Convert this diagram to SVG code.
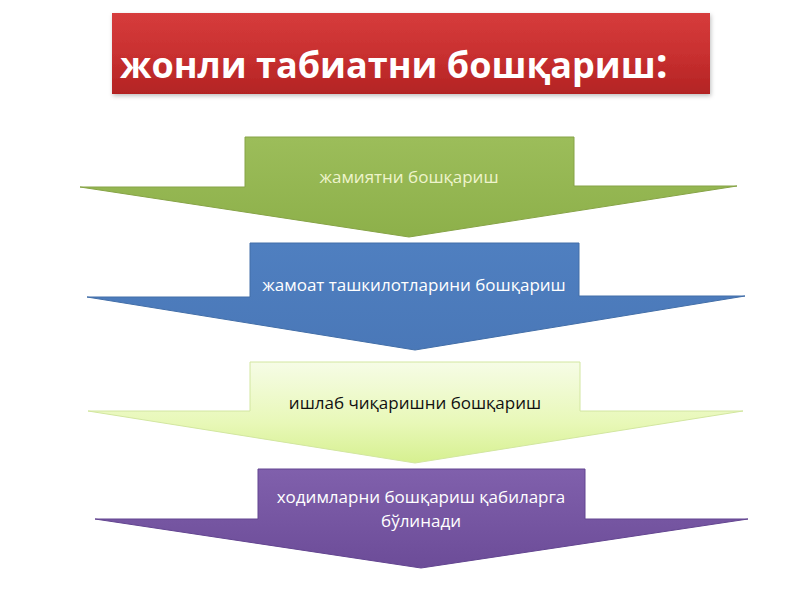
<svg xmlns="http://www.w3.org/2000/svg" width="800" height="600" viewBox="0 0 800 600">
<defs>
<linearGradient id="gRed" x1="0" y1="0" x2="0" y2="1">
<stop offset="0" stop-color="#d63c3c"/><stop offset="0.5" stop-color="#c93030"/><stop offset="1" stop-color="#b32424"/>
</linearGradient>
<linearGradient id="gGreen" x1="0" y1="0" x2="0" y2="1">
<stop offset="0" stop-color="#9cbd5a"/><stop offset="1" stop-color="#8db04a"/>
</linearGradient>
<linearGradient id="gBlue" x1="0" y1="0" x2="0" y2="1">
<stop offset="0" stop-color="#4f7fc0"/><stop offset="1" stop-color="#4a78b8"/>
</linearGradient>
<linearGradient id="gLight" x1="0" y1="0" x2="0" y2="1">
<stop offset="0" stop-color="#f6fce6"/><stop offset="0.6" stop-color="#e8f8b8"/><stop offset="1" stop-color="#d6f090"/>
</linearGradient>
<linearGradient id="gPurple" x1="0" y1="0" x2="0" y2="1">
<stop offset="0" stop-color="#8060ac"/><stop offset="1" stop-color="#6c4c98"/>
</linearGradient>
<filter id="sh" x="-5%" y="-10%" width="110%" height="130%">
<feDropShadow dx="1" dy="2" stdDeviation="2" flood-color="#000" flood-opacity="0.25"/>
</filter>
<style>
.t{font-family:"Open Sans","Noto Sans",sans-serif;font-size:17px;text-anchor:middle}
.w{fill:#ffffff}
.title{font-family:"Open Sans","Noto Sans",sans-serif;font-weight:bold;font-size:36px;fill:#ffffff}
</style>
</defs>
<rect width="800" height="600" fill="#ffffff"/>
<g id="title">
<rect x="112" y="13" width="598" height="81" fill="url(#gRed)" filter="url(#sh)"/>
<text class="title" x="120" y="78">жонли табиатни бошқариш<tspan font-size="42">:</tspan></text>
</g>
<g id="connectors"></g>
<g id="arrow1">
<path d="M245,137 H574 V186 H737 L409,237 L80,187 H245 Z" fill="url(#gGreen)" stroke="#86a346" stroke-width="1"/>
<text class="t" x="409" y="183" fill="#eef4cc">жамиятни бошқариш</text>
</g>
<g id="arrow2">
<path d="M250,243 H579 V296 H745 L415,350 L87,297 H250 Z" fill="url(#gBlue)" stroke="#426ea8" stroke-width="1"/>
<text class="t w" x="414" y="291">жамоат ташкилотларини бошқариш</text>
</g>
<g id="arrow3">
<path d="M250,362 H580 V411 H743 L415,463 L88,411 H250 Z" fill="url(#gLight)" stroke="#d2e6a0" stroke-width="1"/>
<text class="t" x="415" y="409" fill="#111111">ишлаб чиқаришни бошқариш</text>
</g>
<g id="arrow4">
<path d="M258,469 H585 V519 H748 L421,568 L95,519 H258 Z" fill="url(#gPurple)" stroke="#634590" stroke-width="1"/>
<text class="t w" x="421" y="503">ходимларни бошқариш қабиларга</text>
<text class="t w" x="421" y="527">бўлинади</text>
</g>
</svg>
